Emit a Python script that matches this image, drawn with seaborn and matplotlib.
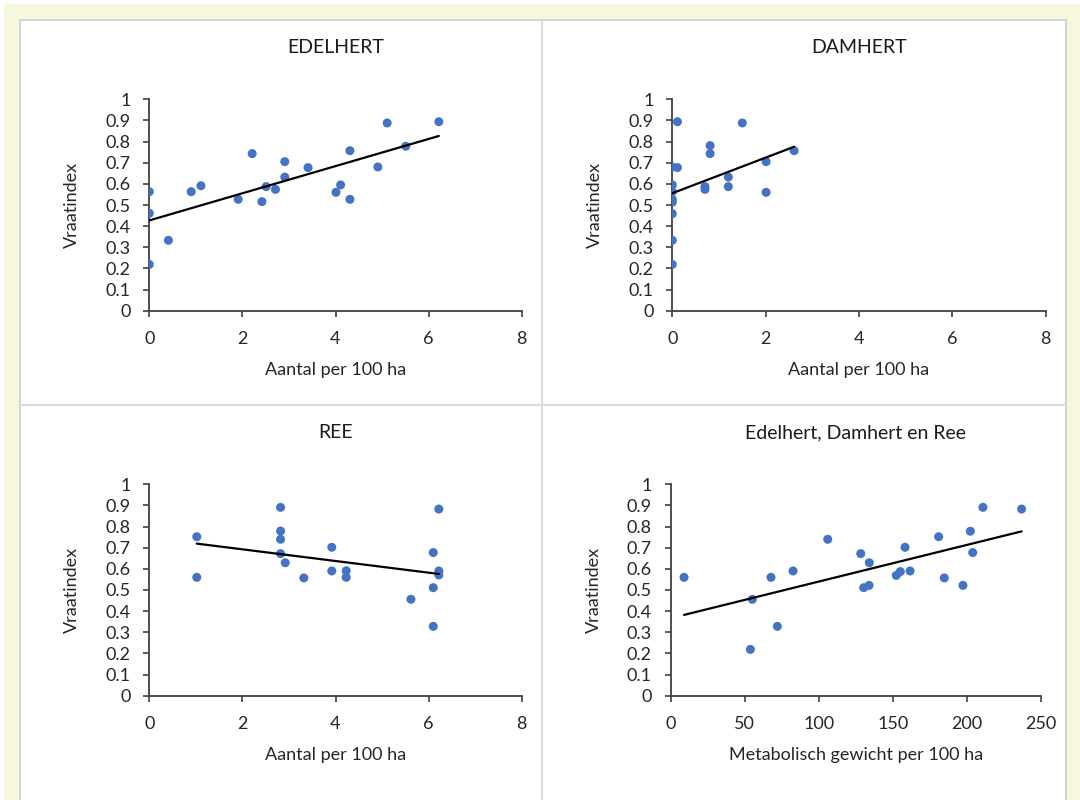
import matplotlib
matplotlib.use("Agg")
import matplotlib.pyplot as plt
import seaborn as sns
import pandas as pd
from matplotlib.patches import Rectangle
from matplotlib.lines import Line2D

# ---------------- data ----------------
edel_x = [0, 0, 0, 0.41, 0.90, 1.11, 1.91, 2.21, 2.42, 2.51, 2.71, 2.91, 2.91,
          3.41, 4.01, 4.11, 4.31, 4.31, 4.91, 5.11, 5.51, 6.22]
edel_y = [0.563, 0.461, 0.219, 0.333, 0.563, 0.591, 0.527, 0.743, 0.516, 0.587,
          0.574, 0.705, 0.632, 0.677, 0.560, 0.595, 0.757, 0.527, 0.680, 0.888,
          0.778, 0.894]

dam_x = [0, 0, 0, 0, 0, 0, 0, 0, 0.11, 0.11, 0.70, 0.70, 0.81, 0.81, 1.20, 1.20,
         1.50, 2.01, 2.01, 2.61]
dam_y = [0.219, 0.333, 0.459, 0.513, 0.527, 0.563, 0.595, 0.680, 0.677, 0.894,
         0.587, 0.574, 0.781, 0.743, 0.632, 0.587, 0.888, 0.705, 0.560, 0.757]

ree_x = [1.02, 1.02, 2.82, 2.82, 2.82, 2.82, 2.92, 3.32, 3.92, 3.92, 4.23, 4.23,
         5.62, 6.10, 6.10, 6.10, 6.22, 6.22, 6.22]
ree_y = [0.752, 0.560, 0.891, 0.779, 0.740, 0.672, 0.629, 0.557, 0.702, 0.590,
         0.591, 0.560, 0.456, 0.677, 0.511, 0.328, 0.883, 0.590, 0.571]

all_x = [9.0, 53.8, 55.1, 67.7, 72.0, 82.6, 106.0, 128.3, 130.3, 133.9, 134.1,
         152.3, 155.0, 158.2, 161.6, 180.9, 184.7, 197.3, 202.3, 203.9, 210.8, 236.9]
all_y = [0.560, 0.219, 0.456, 0.560, 0.328, 0.590, 0.740, 0.672, 0.511, 0.522,
         0.629, 0.569, 0.587, 0.702, 0.590, 0.752, 0.557, 0.522, 0.778, 0.677,
         0.891, 0.883]

titles = ["EDELHERT", "DAMHERT", "REE", "Edelhert, Damhert en Ree"]
xlabels = ["Aantal per 100 ha", "Aantal per 100 ha", "Aantal per 100 ha",
           "Metabolisch gewicht per 100 ha"]
ylabel = "Vraatindex"
yticks = [0, 0.1, 0.2, 0.3, 0.4, 0.5, 0.6, 0.7, 0.8, 0.9, 1]
ytick_labels = ["0", "0.1", "0.2", "0.3", "0.4", "0.5", "0.6", "0.7", "0.8", "0.9", "1"]
xticks_count = [0, 2, 4, 6, 8]
xticks_metab = [0, 50, 100, 150, 200, 250]

# ---------------- style ----------------
sns.set_theme(style="white")
plt.rcParams['font.family'] = ['Lato', 'DejaVu Sans']

W, H = 1080, 800
fig = plt.figure(figsize=(W / 100, H / 100), dpi=100)
fig.patch.set_facecolor("white")

# cream frame and white panel
fig.patches.append(Rectangle((4 / W, 0), (W - 4) / W, (H - 4) / H, transform=fig.transFigure,
                             facecolor="#f6f7dc", edgecolor="none", zorder=0))
fig.patches.append(Rectangle((20 / W, -0.01), (1066 - 20) / W, (H - 20) / H + 0.01,
                             transform=fig.transFigure, facecolor="white",
                             edgecolor="#d4d4d4", linewidth=1.5, zorder=1))
# dividers
fig.lines.append(Line2D([542 / W, 542 / W], [0, (H - 20) / H], transform=fig.transFigure,
                        color="#dcdcdc", linewidth=1.5, zorder=2))
fig.lines.append(Line2D([20 / W, 1066 / W], [1 - 405 / H, 1 - 405 / H], transform=fig.transFigure,
                        color="#dcdcdc", linewidth=1.5, zorder=2))

def px_axes(x0, x1, ytop, ybot):
    return [x0 / W, 1 - ybot / H, (x1 - x0) / W, (ybot - ytop) / H]

positions = [
    px_axes(149.3, 521.7, 99.3, 310.7),
    px_axes(672.3, 1045.7, 99.3, 310.7),
    px_axes(149.3, 521.7, 484.3, 695.7),
    px_axes(670.7, 1041.0, 484.3, 695.7),
]

datasets = [(edel_x, edel_y), (dam_x, dam_y), (ree_x, ree_y), (all_x, all_y)]
xlims = [(0, 8), (0, 8), (0, 8), (0, 250)]
xticks_list = [xticks_count, xticks_count, xticks_count, xticks_metab]

axis_col = "#404040"
text_col = "#262626"
for i, (pos, (xs, ys)) in enumerate(zip(positions, datasets)):
    ax = fig.add_axes(pos)
    ax.set_facecolor("none")
    ax.set_zorder(5)
    df = pd.DataFrame({"x": xs, "y": ys})
    sns.regplot(data=df, x="x", y="y", ax=ax, ci=None, truncate=True,
                scatter_kws=dict(s=42, color="#4472C4", edgecolor="none", alpha=1, zorder=3),
                line_kws=dict(color="black", linewidth=1.6, zorder=4))
    ax.set_xlim(*xlims[i])
    ax.set_ylim(0, 1)
    ax.set_xticks(xticks_list[i])
    ax.set_xticklabels([str(t) for t in xticks_list[i]])
    ax.set_yticks(yticks)
    ax.set_yticklabels(ytick_labels)
    for s in ["top", "right"]:
        ax.spines[s].set_visible(False)
    for s in ["left", "bottom"]:
        ax.spines[s].set_color(axis_col)
        ax.spines[s].set_linewidth(1.3)
    ax.tick_params(axis="both", direction="out", length=4.5, width=1.2, color=axis_col,
                   labelsize=13, labelcolor=text_col, left=True, bottom=True)
    ax.tick_params(axis="x", pad=10)
    ax.tick_params(axis="y", pad=9)
    ax.set_xlabel(xlabels[i], fontsize=13, color=text_col)
    ax.set_ylabel(ylabel, fontsize=13, color=text_col)
    ax.xaxis.set_label_coords(0.5, -0.245)
    ax.yaxis.set_label_coords(-0.186, 0.5)
    ax.text(0.5, 1.245, titles[i], transform=ax.transAxes, ha="center", va="center",
            fontsize=14, color="#1a1a1a")

fig.savefig("out.png", dpi=100)
